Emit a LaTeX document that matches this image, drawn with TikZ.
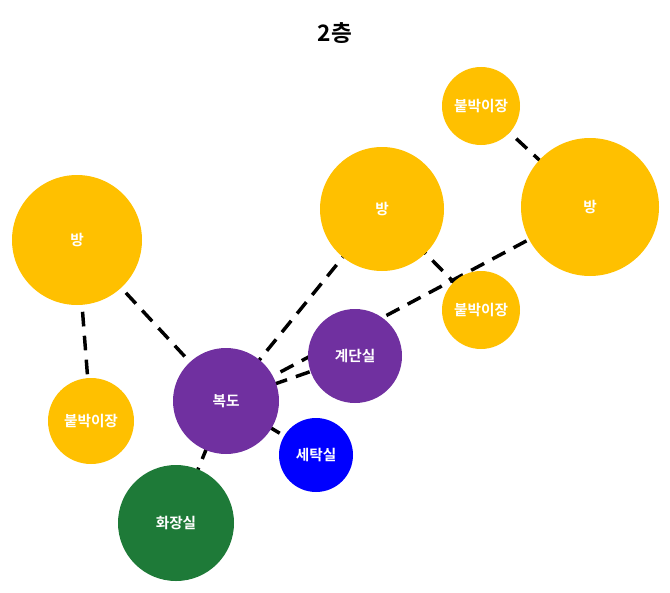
\documentclass[tikz,border=0pt]{standalone}
\usepackage{fontspec}
\usetikzlibrary{backgrounds}
\newfontfamily\kr{Noto Sans CJK KR}[BoldFont={Noto Sans CJK KR Bold}]
\definecolor{roomyellow}{HTML}{FFC000}
\definecolor{hallpurple}{HTML}{7030A0}
\definecolor{laundryblue}{HTML}{0000FF}
\definecolor{bathgreen}{HTML}{1E7A38}
\tikzset{
  room/.style={circle, inner sep=0pt, draw=none, text=white,
    font=\kr\bfseries\fontsize{11}{13}\selectfont},
  link/.style={line width=2.6pt, dash pattern=on 11pt off 7pt, black},
}
\begin{document}
\begin{tikzpicture}[x=0.75pt, y=-0.75pt]
\useasboundingbox (0,0) rectangle (670,592);
\node[font=\kr\bfseries\fontsize{17}{20}\selectfont] (title) at (335,33) {2층};

\node[room, fill=roomyellow, minimum size=78*0.75pt]  (closetA) at (481,106) {붙박이장};
\node[room, fill=roomyellow, minimum size=138*0.75pt] (roomR)   at (590,207) {방};
\node[room, fill=roomyellow, minimum size=124*0.75pt] (roomM)   at (382,209) {방};
\node[room, fill=roomyellow, minimum size=130*0.75pt] (roomL)   at (77,240)  {방};
\node[room, fill=roomyellow, minimum size=78*0.75pt]  (closetB) at (481,310) {붙박이장};
\node[room, fill=hallpurple, minimum size=94*0.75pt]  (stairs)  at (355,356) {계단실};
\node[room, fill=hallpurple, minimum size=106*0.75pt] (hall)    at (226,401) {복도};
\node[room, fill=laundryblue, minimum size=74*0.75pt] (laundry) at (316,455) {세탁실};
\node[room, fill=roomyellow, minimum size=86*0.75pt]  (closetC) at (91,421)  {붙박이장};
\node[room, fill=bathgreen, minimum size=116*0.75pt]  (bath)    at (176,523) {화장실};

% connectors run centre to centre, underneath the circles
\begin{scope}[on background layer]
  \draw[link] (closetA.center) -- (roomR.center);
  \draw[link] (roomM.center) -- (closetB.center);
  \draw[link] (roomR.center) -- (hall.center);
  \draw[link] (stairs.center) -- (hall.center);
  \draw[link] (roomM.center) -- (hall.center);
  \draw[link] (roomL.center) -- (hall.center);
  \draw[link] (roomL.center) -- (closetC.center);
  \draw[link] (hall.center) -- (laundry.center);
  \draw[link] (hall.center) -- (bath.center);
\end{scope}
\end{tikzpicture}
\end{document}
